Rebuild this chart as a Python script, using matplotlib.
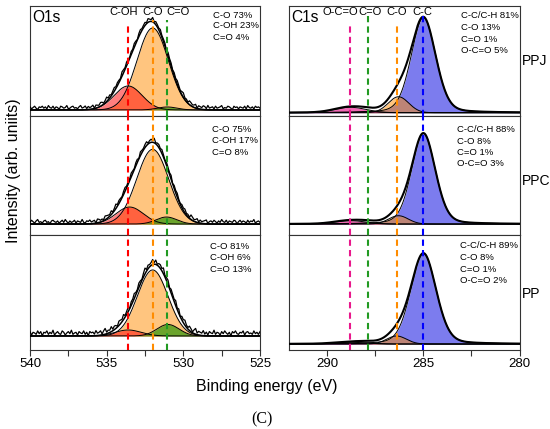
import numpy as np
import matplotlib
matplotlib.use('Agg')
import matplotlib.pyplot as plt
from matplotlib.ticker import MultipleLocator

plt.rcParams['font.family'] = ['Liberation Sans', 'DejaVu Sans']

# ---------------- data ----------------
samples = ['PPJ', 'PPC', 'PP']

# O1s components (per sample: PPJ, PPC, PP); heights in panel units
o1s_co_center = [532.0, 532.0, 532.0]
o1s_co_height = [0.745, 0.628, 0.574]
o1s_co_fwhm = [2.4, 2.45, 2.35]
o1s_coh_center = [533.6, 533.5, 533.6]
o1s_coh_height = [0.218, 0.143, 0.052]
o1s_coh_fwhm = [2.15, 2.1, 2.0]
o1s_ceo_center = [531.05, 531.1, 531.0]
o1s_ceo_height = [0.027, 0.059, 0.10]
o1s_ceo_fwhm = [1.5, 1.6, 1.7]
o1s_baseline = [0.055, 0.092, 0.122]
o1s_raw_offset = [0.022, 0.02, 0.026]
o1s_line_pos = [533.6, 532.0, 531.05]
o1s_line_labels = ['C-OH', 'C-O', 'C=O']

o1s_text = [['C-O 73%', 'C-OH 23%', 'C=O 4%'],
            ['C-O 75%', 'C-OH 17%', 'C=O 8%'],
            ['C-O 81%', 'C-OH 6%', 'C=O 13%']]

# measured-noise estimates (units of 0.006 panel height), 0.1 eV step 540 -> 525
noise_ppj = [1,-2,0,2,-1,-3,1,0,2,-1,1,-2,3,0,-1,2,-2,1,0,-3,2,1,-1,0,3,-2,-1,1,2,-1,
             0,-2,1,3,-1,0,2,-2,1,-1,0,2,-3,1,0,-1,2,1,-2,0,3,-1,1,-2,0,2,-1,1,0,-2,
             3,1,-1,2,0,-2,1,-1,2,0,-3,1,2,-1,0,1,-2,2,0,-1,3,-2,1,0,-1,2,-1,0,1,-3,
             2,0,1,-2,1,-1,2,0,-2,1,3,-1,0,-2,2,1,-1,0,2,-3,1,0,-1,2,1,-2,3,-1,0,1,
             -2,2,-1,0,1,3,-2,0,-1,2,1,-1,-3,2,0,1,-2,1,0,-1,2,-2,3,0,-1,1,-2,2,0,1,-1]
noise_ppc = [-1,2,0,-2,1,3,-1,0,-2,1,2,-1,0,-3,1,2,0,-1,1,-2,0,2,-1,3,0,-2,1,-1,0,2,
             -2,1,0,-1,3,-1,-2,1,0,2,-1,0,1,-3,2,1,-1,0,-2,2,1,0,-1,2,-2,0,3,-1,1,0,
             -2,1,2,-1,0,-1,2,0,-2,1,1,-3,2,0,-1,1,2,-2,0,1,-1,3,-2,0,1,-1,2,0,-2,1,
             0,-1,2,-3,1,0,2,-1,-2,1,0,2,-1,0,-2,3,1,-1,0,2,-2,1,-1,0,1,2,-3,0,1,-1,
             2,0,-2,1,-1,3,0,-1,2,-2,1,0,-1,2,1,-3,0,2,-1,1,0,-2,2,-1,1,0,3,-2,0,1,-1]
noise_pp = [2,-3,1,0,-2,3,-1,2,-4,1,0,3,-2,1,-1,4,-3,0,2,-1,-2,3,1,-3,0,2,-1,4,-2,0,
            1,-3,2,0,-1,3,-2,1,-4,2,0,1,-2,3,-1,0,2,-3,1,4,-2,0,-1,3,-2,1,0,-3,2,1,
            -1,3,-2,0,2,-4,1,0,3,-1,-2,2,0,-3,1,4,-2,1,-1,0,3,-2,2,-3,0,1,-1,4,-2,0,
            2,-3,1,0,-1,3,-2,2,-4,1,0,3,-1,-2,2,0,-3,1,4,-2,1,0,-1,3,-2,1,-3,2,0,-1,
            4,-2,1,0,-3,2,-1,3,0,-2,1,-4,2,0,3,-1,-2,1,0,3,-3,1,2,-1,0,-2,3,-1,1,-2,2]
o1s_noise = [noise_ppj, noise_ppc, noise_pp]

# C1s components
c1s_cc_center = [285.0, 285.0, 285.0]
c1s_cc_height = [0.865, 0.762, 0.789]
c1s_cc_fwhm = [1.5, 1.45, 1.55]
c1s_co_center = [286.3, 286.3, 286.4]
c1s_co_height = [0.145, 0.07, 0.07]
c1s_co_fwhm = [1.25, 1.2, 1.2]
c1s_ceo_center = [287.9, 287.9, 287.9]
c1s_ceo_height = [0.01, 0.008, 0.008]
c1s_ceo_fwhm = [1.2, 1.2, 1.2]
c1s_oceo_center = [288.8, 288.8, 288.8]
c1s_oceo_height = [0.049, 0.028, 0.015]
c1s_oceo_fwhm = [1.9, 1.9, 1.9]
c1s_baseline = [0.03, 0.092, 0.052]
c1s_line_pos = [288.8, 287.9, 286.4, 285.0]
c1s_line_labels = ['O-C=O', 'C=O', 'C-O', 'C-C']

c1s_text = [['C-C/C-H 81%', 'C-O 13%', 'C=O 1%', 'O-C=O 5%'],
            ['C-C/C-H 88%', 'C-O 8%', 'C=O 1%', 'O-C=O 3%'],
            ['C-C/C-H 89%', 'C-O 8%', 'C=O 1%', 'O-C=O 2%']]

o1s_ticks = [540, 535, 530, 525]
c1s_ticks = [290, 285, 280]

# ---------------- helpers ----------------
def pv(x, c, h, fwhm, eta=0.0):
    s = fwhm / (2 * np.sqrt(2 * np.log(2)))
    g = np.exp(-(x - c) ** 2 / (2 * s ** 2))
    lo = 1.0 / (1.0 + ((x - c) / (fwhm / 2)) ** 2)
    return h * ((1 - eta) * g + eta * lo)

W, H = 550, 429
def fx(x): return x / W
def fy(y): return 1 - y / H

fig = plt.figure(figsize=(5.5, 4.29), dpi=100)
rows = [(6, 116), (116, 235), (235, 350)]
spine_c = '#333333'

def style_axes(ax, xlim, ticks, bottom):
    ax.set_xlim(*xlim)
    ax.set_ylim(0, 1)
    ax.set_yticks([])
    ax.set_xticks(ticks)
    ax.xaxis.set_minor_locator(MultipleLocator(2.5))
    for sp in ax.spines.values():
        sp.set_color(spine_c)
        sp.set_linewidth(0.8)
    if bottom:
        ax.tick_params(axis='x', which='both', direction='out', length=4,
                       width=0.8, color=spine_c, pad=1.5, labelsize=9.5)
    else:
        ax.tick_params(axis='x', which='both', length=0, labelbottom=False)

c_orange = '#ff8c00'
c_red = '#ff0000'
c_green_fill = '#3a9a10'
c_green_line = '#229a22'
c_blue = '#1010e0'
c_pink = '#e8188c'

xo = np.linspace(540, 525, 800)
xc = np.linspace(292, 280, 800)

for i in range(3):
    top, bot = rows[i]
    axL = fig.add_axes([fx(30), fy(bot), 230 / W, (bot - top) / H])
    axR = fig.add_axes([fx(289), fy(bot), 230.5 / W, (bot - top) / H])
    last = (i == 2)
    style_axes(axL, (540, 525), o1s_ticks, last)
    style_axes(axR, (292, 280), c1s_ticks, last)

    # ---- O1s ----
    b = o1s_baseline[i]
    comps = [
        (pv(xo, o1s_co_center[i], o1s_co_height[i], o1s_co_fwhm[i]), c_orange, 0.5),
        (pv(xo, o1s_coh_center[i], o1s_coh_height[i], o1s_coh_fwhm[i]), c_red, 0.5),
        (pv(xo, o1s_ceo_center[i], o1s_ceo_height[i], o1s_ceo_fwhm[i]), c_green_fill, 0.75),
    ]
    env = np.zeros_like(xo)
    for y, col, a in comps:
        axL.fill_between(xo, b, b + y, color=col, alpha=a, lw=0, zorder=2)
        axL.plot(xo, b + y, color='k', lw=0.7, zorder=3)
        env += y
    axL.plot(xo, b + env, color='k', lw=1.1, zorder=4)
    nz = np.array(o1s_noise[i], dtype=float)
    xr = np.linspace(540, 525, len(nz))
    raw = (pv(xr, o1s_co_center[i], o1s_co_height[i], o1s_co_fwhm[i])
           + pv(xr, o1s_coh_center[i], o1s_coh_height[i], o1s_coh_fwhm[i])
           + pv(xr, o1s_ceo_center[i], o1s_ceo_height[i], o1s_ceo_fwhm[i]))
    axL.plot(xr, b + o1s_raw_offset[i] + raw + 0.006 * nz, color='k', lw=0.9, zorder=4)

    ymaxL = [0.83, 0.87, 0.87] if i == 0 else [1, 1, 1]
    for pos, col, ym in zip(o1s_line_pos, [c_red, c_orange, c_green_line], ymaxL):
        axL.axvline(pos, ymin=0, ymax=ym, color=col, lw=1.5, dashes=(3, 2), zorder=5)

    # ---- C1s ----
    b = c1s_baseline[i]
    cc = pv(xc, c1s_cc_center[i], c1s_cc_height[i], c1s_cc_fwhm[i], 0.2)
    co = pv(xc, c1s_co_center[i], c1s_co_height[i], c1s_co_fwhm[i])
    ceo = pv(xc, c1s_ceo_center[i], c1s_ceo_height[i], c1s_ceo_fwhm[i])
    oceo = pv(xc, c1s_oceo_center[i], c1s_oceo_height[i], c1s_oceo_fwhm[i])
    for y, col, a in [(cc, c_blue, 0.55), (co, c_orange, 0.5),
                      (ceo, c_green_fill, 0.6), (oceo, c_pink, 0.65)]:
        axR.fill_between(xc, b, b + y, color=col, alpha=a, lw=0, zorder=2)
        axR.plot(xc, b + y, color='k', lw=0.7, zorder=3)
    axR.plot(xc, b + cc + co + ceo + oceo, color='k', lw=1.5, zorder=4)

    ymaxR = [0.83, 0.93, 0.85, 0.92] if i == 0 else [1, 1, 1, 1]
    for pos, col, ym in zip(c1s_line_pos, [c_pink, c_green_line, c_orange, '#0000ff'], ymaxR):
        axR.axvline(pos, ymin=0, ymax=ym, color=col, lw=1.5, dashes=(3, 2), zorder=5)

# ---------------- texts ----------------
fig.text(fx(32), fy(21.5), 'O1s', fontsize=11.2, va='baseline')
fig.text(fx(291), fy(21.5), 'C1s', fontsize=11.2, va='baseline')
for lab, xp in zip(o1s_line_labels, [124, 153, 178]):
    fig.text(fx(xp), fy(15), lab, fontsize=8, ha='center', va='baseline')
for lab, xp in zip(c1s_line_labels, [340, 370, 397, 422.5]):
    fig.text(fx(xp), fy(15), lab, fontsize=8, ha='center', va='baseline')

o1s_text_y = [[17.5, 28.5, 39.5], [131.5, 143, 154.5], [249, 260.5, 272]]
o1s_text_x = [213, 212, 210]
for i in range(3):
    for t, yp in zip(o1s_text[i], o1s_text_y[i]):
        fig.text(fx(o1s_text_x[i]), fy(yp), t, fontsize=6.8, va='baseline')

c1s_text_y = [[18, 29.5, 41.5, 53], [131.5, 143.5, 155, 166.5], [248.5, 260, 271.7, 283.3]]
c1s_text_x = [461, 457, 460]
for i in range(3):
    for t, yp in zip(c1s_text[i], c1s_text_y[i]):
        fig.text(fx(c1s_text_x[i]), fy(yp), t, fontsize=6.8, va='baseline')

for s, yp in zip(samples, [65, 185, 298]):
    fig.text(fx(522), fy(yp), s, fontsize=10, va='baseline')

fig.text(fx(267), fy(391.5), 'Binding energy (eV)', fontsize=11.5, ha='center', va='baseline')
fig.text(fx(13.5), fy(170.5), 'Intensity (arb. uniits)', fontsize=11.5, rotation=90,
         ha='center', va='center')
fig.text(fx(262), fy(419), '(C)', fontsize=11.5, ha='center', va='center',
         family=['Liberation Serif', 'DejaVu Serif'])

fig.savefig('out.png', dpi=100)
